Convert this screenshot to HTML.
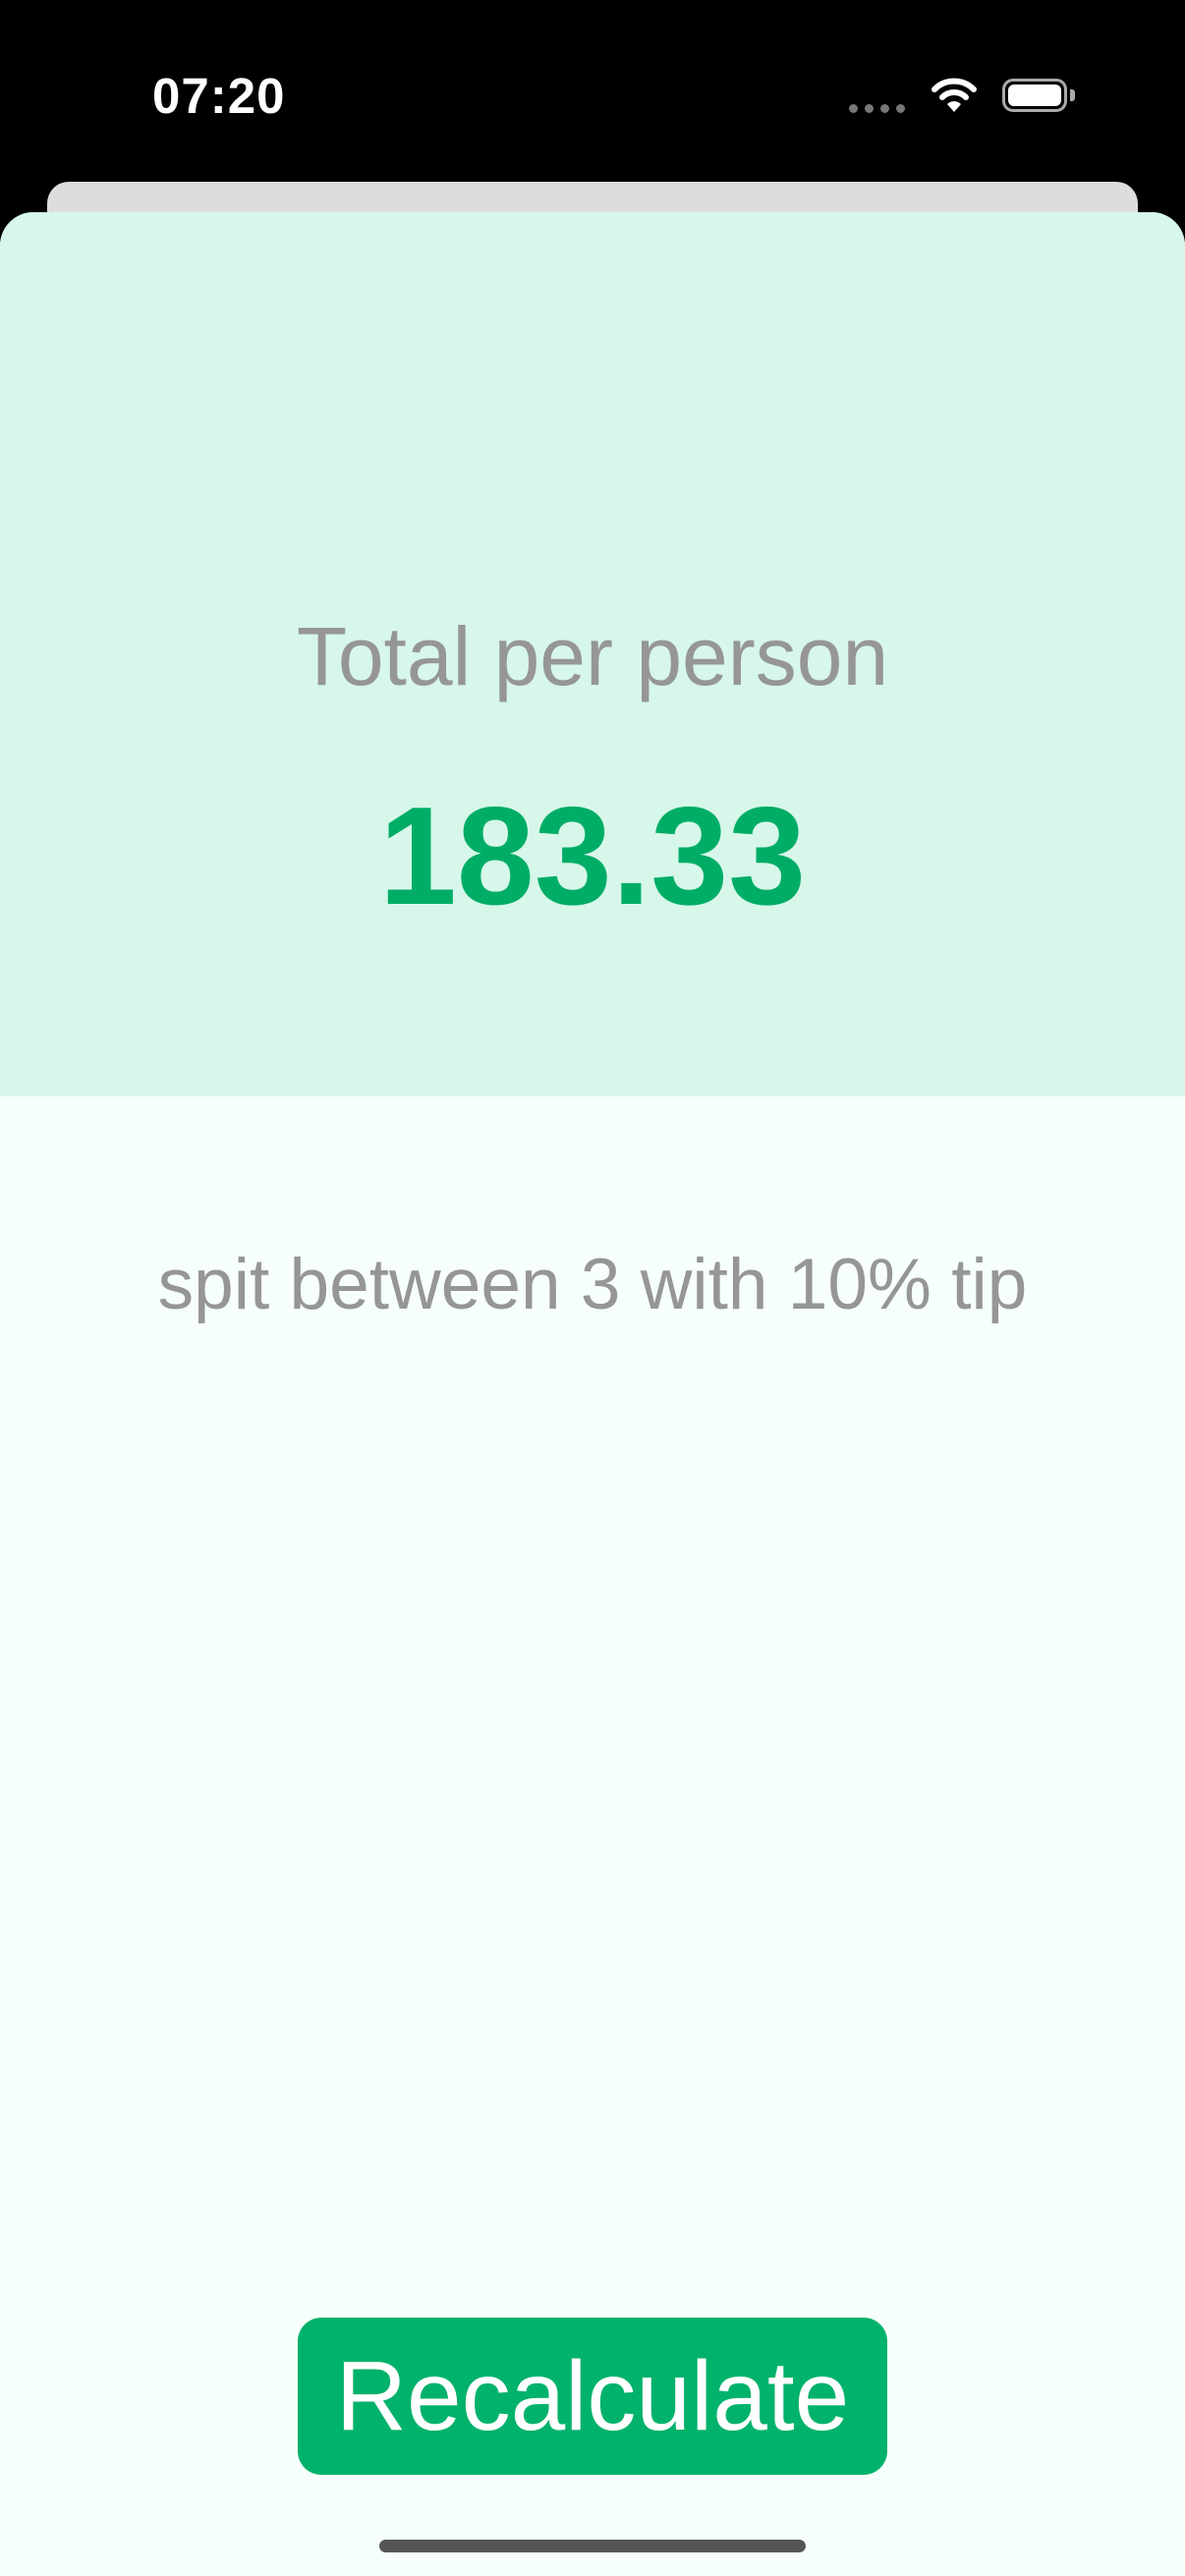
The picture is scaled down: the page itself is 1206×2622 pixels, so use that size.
<!DOCTYPE html>
<html><head><meta charset="utf-8">
<style>
html,body{margin:0;padding:0}
body{width:1206px;height:2622px;position:relative;overflow:hidden;background:#000;font-family:"Liberation Sans",sans-serif}
.abs{position:absolute}
</style></head>
<body>
<div class="abs" style="left:155px;top:68px;font-size:51px;font-weight:bold;color:#fff;letter-spacing:1px">07:20</div>
<div class="abs" style="left:864px;top:106px;width:60px;height:9px">
 <div class="abs" style="left:0;top:0;width:9px;height:9px;border-radius:50%;background:#777"></div>
 <div class="abs" style="left:16px;top:0;width:9px;height:9px;border-radius:50%;background:#777"></div>
 <div class="abs" style="left:32px;top:0;width:9px;height:9px;border-radius:50%;background:#777"></div>
 <div class="abs" style="left:48px;top:0;width:9px;height:9px;border-radius:50%;background:#777"></div>
</div>
<svg class="abs" style="left:948px;top:78px" width="46" height="38" viewBox="0 0 46 38">
 <path d="M3 13 A28 28 0 0 1 43 13" stroke="#fff" stroke-width="6" fill="none" stroke-linecap="round"/>
 <path d="M11 21 A17 17 0 0 1 35 21" stroke="#fff" stroke-width="6" fill="none" stroke-linecap="round"/>
 <path d="M16 28 L23 36 L30 28 A10 10 0 0 0 16 28Z" fill="#fff"/>
</svg>
<div class="abs" style="left:1020px;top:80px;width:66px;height:34px;border:3px solid #aaa;border-radius:11px;box-sizing:border-box">
 <div class="abs" style="left:3px;top:3px;right:3px;bottom:3px;background:#fff;border-radius:6px"></div>
</div>
<div class="abs" style="left:1089px;top:91px;width:5px;height:12px;background:#aaa;border-radius:0 3px 3px 0"></div>

<div class="abs" style="left:48px;top:185px;width:1110px;height:80px;background:#dcdddd;border-radius:22px"></div>
<div class="abs" style="left:0;top:216px;width:1206px;height:2406px;background:#f6fffc;border-radius:34px 34px 0 0;overflow:hidden">
 <div class="abs" style="left:0;top:0;width:1206px;height:900px;background:#d7f7ea"></div>
</div>
<div class="abs" style="left:0;width:1206px;top:620px;text-align:center;font-size:84px;color:#969696">Total per person</div>
<div class="abs" style="left:0;width:1206px;top:790px;text-align:center;font-size:142px;font-weight:bold;color:#00ad66">183.33</div>
<div class="abs" style="left:0;width:1206px;top:1266px;text-align:center;font-size:73px;color:#969696">spit between 3 with 10% tip</div>
<div class="abs" style="left:303px;top:2359px;width:600px;height:160px;background:#00b26b;border-radius:24px;color:#fff;font-size:100px;text-align:center;line-height:160px">Recalculate</div>
<div class="abs" style="left:386px;top:2585px;width:434px;height:13px;background:#555;border-radius:7px"></div>
</body></html>
